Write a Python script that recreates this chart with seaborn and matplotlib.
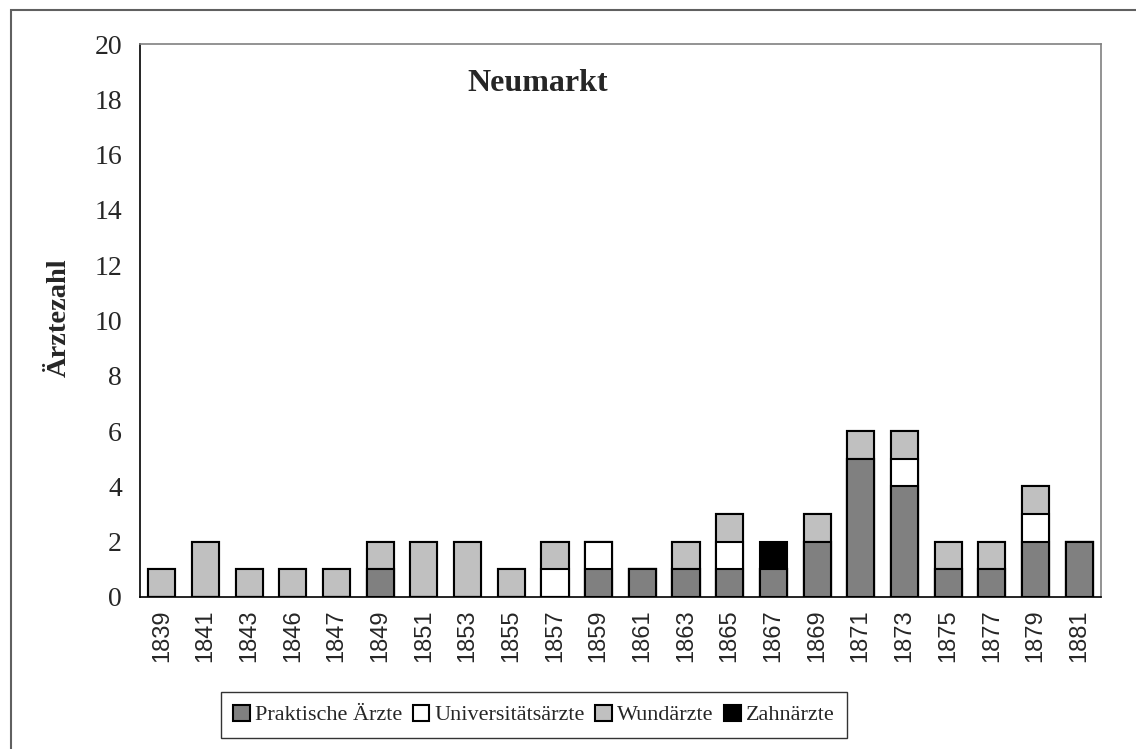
import numpy as np
import pandas as pd
import matplotlib
matplotlib.use('Agg')
import matplotlib.pyplot as plt
from matplotlib.patches import Patch, Rectangle
import seaborn as sns

years = ['1839', '1841', '1843', '1846', '1847', '1849', '1851', '1853', '1855', '1857', '1859',
         '1861', '1863', '1865', '1867', '1869', '1871', '1873', '1875', '1877', '1879', '1881']
praktische = [0, 0, 0, 0, 0, 1, 0, 0, 0, 0, 1, 1, 1, 1, 1, 2, 5, 4, 1, 1, 2, 2]
universitaet = [0, 0, 0, 0, 0, 0, 0, 0, 0, 1, 1, 0, 0, 1, 0, 0, 0, 1, 0, 0, 1, 0]
wundaerzte = [1, 2, 1, 1, 1, 1, 2, 2, 1, 1, 0, 0, 1, 1, 0, 1, 1, 1, 1, 1, 1, 0]
zahnaerzte = [0, 0, 0, 0, 0, 0, 0, 0, 0, 0, 0, 0, 0, 0, 1, 0, 0, 0, 0, 0, 0, 0]

labels = ['Praktische Ärzte', 'Universitätsärzte', 'Wundärzte', 'Zahnärzte']
colors = ['#808080', '#ffffff', '#c0c0c0', '#000000']

df = pd.DataFrame({'Jahr': years, 'P': praktische, 'U': universitaet,
                   'W': wundaerzte, 'Z': zahnaerzte})
# cumulative totals, drawn from the top layer down so each one covers the next
df['c1'] = df['P']
df['c2'] = df['c1'] + df['U']
df['c3'] = df['c2'] + df['W']
df['c4'] = df['c3'] + df['Z']

serif = ['Liberation Serif', 'DejaVu Serif']
sans = ['Liberation Sans', 'DejaVu Sans']

sns.set_style('white')
plt.rcParams['font.family'] = serif

fig = plt.figure(figsize=(11.36, 7.49), dpi=100)
ax = fig.add_axes([140 / 1136, 1 - 597 / 749, (1101 - 140) / 1136, (597 - 44) / 749])

for col, c in zip(['c4', 'c3', 'c2', 'c1'], colors[::-1]):
    sns.barplot(data=df, x='Jahr', y=col, color=c, width=0.62, ax=ax,
                edgecolor='black', linewidth=1.5, saturation=1, order=years)

ax.set_ylim(0, 20)
ax.set_xlim(-0.5, len(years) - 0.5)
ax.set_yticks(np.arange(0, 21, 2))
ax.set_yticklabels([str(v) for v in range(0, 21, 2)], fontsize=20, family=serif)
ax.set_xticks(np.arange(len(years)))
ax.set_xticklabels(years, rotation=90, fontsize=17, family=sans)
ax.set_xticks(np.arange(len(years) + 1) - 0.5, minor=True)
ax.tick_params(axis='x', which='major', length=0, pad=9)
ax.tick_params(axis='x', which='minor', length=8, width=1, direction='out', color='black')
ax.tick_params(axis='y', length=8, width=1, direction='out', color='black', pad=5)
ax.set_xlabel('')
ax.set_ylabel('Ärztezahl', fontsize=20.5, fontweight='bold', family=serif)
ax.yaxis.set_label_coords(-0.071, 0.505)

for s in ['left', 'bottom']:
    ax.spines[s].set_color('black')
    ax.spines[s].set_linewidth(1.2)
for s in ['top', 'right']:
    ax.spines[s].set_color('#808080')
    ax.spines[s].set_linewidth(1.2)

ax.text(0.414, 0.929, 'Neumarkt', transform=ax.transAxes, ha='center', va='center',
        fontsize=23, fontweight='bold', family=serif)

handles = [Patch(facecolor=c, edgecolor='black', linewidth=1.5) for c in colors]
leg = fig.legend(handles, labels, ncol=4, loc='center', bbox_to_anchor=(534 / 1136, 1 - 715 / 749),
                 fontsize=16, frameon=True, fancybox=False, edgecolor='black',
                 handlelength=0.75, handleheight=0.75, handletextpad=0.25, columnspacing=0.45,
                 borderpad=0.55, borderaxespad=0)
leg.get_frame().set_linewidth(1.0)

# outer chart border (runs off the right and bottom edges)
fig.patches.append(Rectangle((11 / 1136, -0.05), 1.2, 1 - 10 / 749 + 0.05, transform=fig.transFigure,
                             fill=False, edgecolor='#606060', linewidth=1.5))

fig.savefig('out.png', dpi=100)
